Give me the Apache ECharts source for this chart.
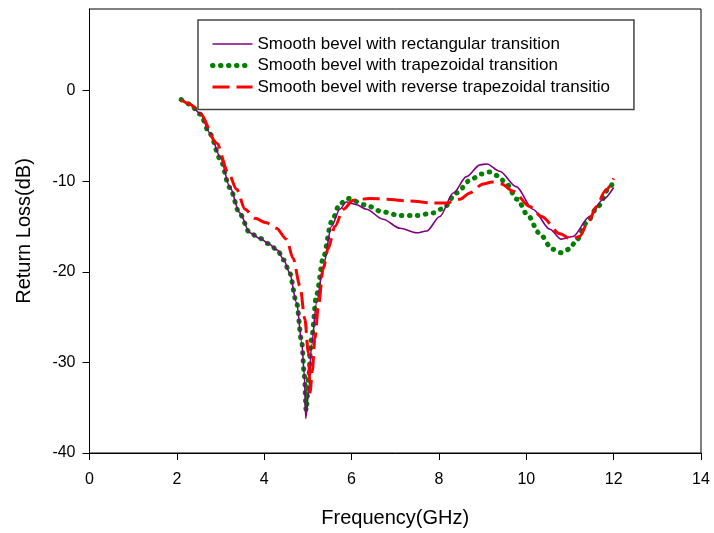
<!DOCTYPE html>
<html>
<head>
<meta charset="utf-8">
<script src="https://cdn.jsdelivr.net/npm/echarts@6/dist/echarts.min.js"></script>
<style>html,body{margin:0;padding:0;background:#fff}#c{width:714px;height:533px}</style>
</head>
<body>
<div id="c"></div>
<script>
var seriesNames = [
  'Smooth bevel with rectangular transition',
  'Smooth bevel with trapezoidal transition',
  'Smooth bevel with reverse trapezoidal transitio'
];
var yTicks = [-40, -30, -20, -10, 0];

var rectFreq = [2.10,2.30,2.53,2.76,2.99,3.21,3.44,3.67,3.90,4.10,4.30,4.45,4.58,4.74,4.86,4.92,4.95,5.03,5.08,5.20,5.35,5.54,5.73,5.88,6.11,6.34,6.72,7.11,7.49,7.72,8.02,8.33,8.63,8.94,9.10,9.39,9.77,10.15,10.54,10.80,11.07,11.45,11.76,12.00];
var rectLoss = [-1.0,-1.5,-2.5,-4.7,-7.3,-10.6,-13.5,-15.7,-16.3,-16.9,-17.6,-18.7,-20.1,-23.4,-27.8,-31.5,-36.2,-32.6,-28.2,-23.4,-19.4,-15.0,-13.1,-12.3,-12.6,-13.1,-14.2,-15.2,-15.7,-15.5,-13.9,-11.3,-9.5,-8.2,-8.1,-8.9,-10.6,-13.1,-15.3,-16.4,-16.1,-13.9,-12.0,-10.7];

var trapFreq = [2.10,2.30,2.53,2.76,2.99,3.21,3.44,3.67,3.90,4.10,4.30,4.45,4.58,4.74,4.86,4.92,4.96,5.02,5.08,5.20,5.35,5.54,5.73,5.92,6.30,6.72,7.11,7.49,7.87,8.10,8.40,8.74,8.97,9.16,9.35,9.53,9.79,10.04,10.29,10.60,10.80,10.99,11.15,11.38,11.64,11.89,12.00];
var trapLoss = [-1.0,-1.5,-2.6,-4.8,-7.5,-10.7,-13.6,-15.7,-16.3,-16.9,-17.6,-18.7,-20.1,-23.4,-27.8,-31.5,-35.3,-31.5,-27.5,-22.5,-18.5,-14.5,-12.5,-11.9,-12.6,-13.4,-13.8,-13.8,-13.5,-13.0,-11.3,-9.8,-9.2,-9.0,-9.4,-10.2,-12.0,-13.8,-15.7,-17.5,-17.9,-17.5,-16.5,-14.6,-12.8,-10.8,-10.0];

var revFreq = [2.10,2.30,2.53,2.91,3.18,3.37,3.56,3.79,4.05,4.28,4.51,4.66,4.82,4.93,5.01,5.05,5.10,5.16,5.24,5.35,5.46,5.62,5.81,6.04,6.42,6.80,7.33,7.87,8.17,8.48,8.71,9.01,9.22,9.43,9.70,10.08,10.35,10.77,11.03,11.22,11.41,11.61,11.80,12.00];
var revLoss = [-1.0,-1.5,-2.5,-5.8,-9.1,-10.9,-13.1,-14.1,-14.6,-15.2,-16.4,-18.5,-21.6,-25.2,-28.9,-33.3,-31.0,-27.4,-23.8,-19.7,-17.5,-15.0,-13.1,-12.1,-11.9,-12.0,-12.2,-12.4,-12.4,-12.0,-11.3,-10.3,-10.1,-10.3,-11.1,-12.8,-13.9,-15.8,-16.4,-16.1,-14.6,-12.8,-11.1,-9.7];

function zip(a, b) { return a.map(function (v, i) { return [v, b[i]]; }); }

var styles = [
  {color: '#800080', width: 1.6, type: 'solid', cap: 'butt'},
  {color: '#008000', width: 5, type: [0.5, 7.5], cap: 'round'},
  {color: '#ff0000', width: 3, type: [17, 7], cap: 'butt'}
];
var hiddenSymbol = {color: 'rgba(0,0,0,0)', borderColor: 'rgba(0,0,0,0)', borderWidth: 0, opacity: 0};

var chart = echarts.init(document.getElementById('c'), null, {renderer: 'canvas'});
var font = 'Liberation Sans, Arial, sans-serif';
chart.setOption({
  animation: false,
  backgroundColor: '#fff',
  grid: {left: 89.5, right: 13, top: 9, bottom: 79, show: true, borderColor: '#000', borderWidth: 1, backgroundColor: 'transparent'},
  legend: {
    orient: 'vertical', left: 198, top: 20,
    padding: [15.5, 24, 14, 12],
    itemWidth: 40, itemHeight: 14, itemGap: 4.5,
    borderColor: '#444', borderWidth: 1.5, backgroundColor: '#fff',
    textStyle: {fontFamily: font, fontSize: 17, color: '#000'},
    itemStyle: hiddenSymbol,
    data: seriesNames.map(function (n, i) {
      return {name: n, itemStyle: hiddenSymbol, lineStyle: styles[i]};
    })
  },
  xAxis: {
    type: 'value', min: 0, max: 14, interval: 2,
    name: 'Frequency(GHz)', nameLocation: 'middle', nameGap: 55,
    nameTextStyle: {fontFamily: font, fontSize: 20, color: '#000'},
    axisLine: {onZero: false, lineStyle: {color: '#000', width: 1}},
    axisTick: {inside: false, length: 7, lineStyle: {color: '#000'}},
    axisLabel: {fontFamily: font, fontSize: 16, color: '#000', margin: 19},
    splitLine: {show: false}
  },
  yAxis: {
    type: 'value', min: -40, max: 9,
    name: 'Return Loss(dB)', nameLocation: 'middle', nameGap: 55, nameRotate: 90,
    nameTextStyle: {fontFamily: font, fontSize: 20, color: '#000'},
    axisLine: {show: true, onZero: false, lineStyle: {color: '#000', width: 1}},
    axisTick: {show: true, inside: false, length: 7, lineStyle: {color: '#000'}, customValues: yTicks},
    axisLabel: {fontFamily: font, fontSize: 16, color: '#000', margin: 14, customValues: yTicks},
    splitLine: {show: false}
  },
  series: [
    {
      name: seriesNames[0], type: 'line', data: zip(rectFreq, rectLoss),
      smooth: 0.3, smoothMonotone: 'x', symbol: 'none', showSymbol: false,
      lineStyle: styles[0], itemStyle: {color: styles[0].color}, z: 3
    },
    {
      name: seriesNames[1], type: 'line', data: zip(trapFreq, trapLoss),
      smooth: 0.3, smoothMonotone: 'x', symbol: 'none', showSymbol: false,
      lineStyle: styles[1], itemStyle: {color: styles[1].color}, z: 2
    },
    {
      name: seriesNames[2], type: 'line', data: zip(revFreq, revLoss),
      smooth: 0.3, smoothMonotone: 'x', symbol: 'none', showSymbol: false,
      lineStyle: styles[2], itemStyle: {color: styles[2].color}, z: 4
    }
  ]
});
</script>
</body>
</html>
